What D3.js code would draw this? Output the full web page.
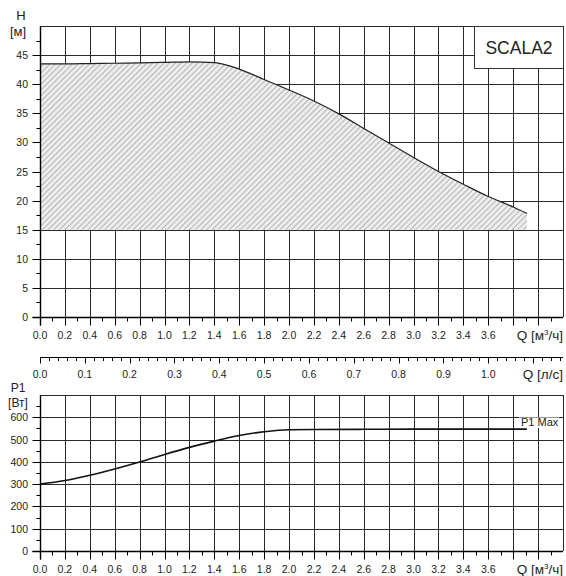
<!DOCTYPE html>
<html>
<head>
<meta charset="utf-8">
<script src="https://cdn.jsdelivr.net/npm/d3@7"></script>
<style>
  body { margin: 0; background: #fff; }
  svg { font-family: "Liberation Sans", Arial, sans-serif; }
</style>
</head>
<body>
<div id="chart"></div>
<script>
// head curve H(Q), m
const headQ = [0, 0.2, 0.4, 0.6, 0.8, 1.0, 1.2, 1.4, 1.6, 1.8, 2.0, 2.2, 2.4, 2.6, 2.8, 3.0, 3.2, 3.4, 3.6, 3.8, 3.91];
const headH = [43.5, 43.5, 43.55, 43.6, 43.65, 43.75, 43.85, 43.7, 42.6, 40.8, 39.0, 37.1, 34.9, 32.4, 29.9, 27.4, 25.0, 22.8, 20.7, 18.9, 17.8];
const headMin = 15;

// power curve P1(Q), W
const powerQ = [0, 0.2, 0.4, 0.6, 0.8, 1.0, 1.2, 1.4, 1.6, 1.8, 2.0, 2.2, 2.6, 3.0, 3.4, 3.91];
const powerP = [300, 316, 340, 368, 399, 433, 465, 493, 518, 535, 544, 545, 546, 547, 547, 547];

// axis ticks
const qLabels = ["0.0", "0.2", "0.4", "0.6", "0.8", "1.0", "1.2", "1.4", "1.6", "1.8", "2.0", "2.2", "2.4", "2.6", "2.8", "3.0", "3.2", "3.4", "3.6"];
const qGrid = [0, 0.2, 0.4, 0.6, 0.8, 1.0, 1.2, 1.4, 1.6, 1.8, 2.0, 2.2, 2.4, 2.6, 2.8, 3.0, 3.2, 3.4, 3.6, 3.8, 4.0, 4.2];
const lsLabels = ["0.0", "0.1", "0.2", "0.3", "0.4", "0.5", "0.6", "0.7", "0.8", "0.9", "1.0"];
const hTicks = [0, 5, 10, 15, 20, 25, 30, 35, 40, 45];
const pTicks = [0, 100, 200, 300, 400, 500, 600];

const width = 566, height = 576;
const svg = d3.select("#chart").append("svg")
  .attr("width", width)
  .attr("height", height);

const x = d3.scaleLinear().domain([0, 4.2]).range([40, 563]);
const xLs = d3.scaleLinear().domain([0, 4.2 / 3.6]).range([40, 563]);
const yH = d3.scaleLinear().domain([0, 50]).range([317, 26]);
const yP = d3.scaleLinear().domain([0, 700]).range([551, 395]);

const gridColor = "#2a2a2a";

// hatch pattern
const defs = svg.append("defs");
const pat = defs.append("pattern")
  .attr("id", "hatch")
  .attr("patternUnits", "userSpaceOnUse")
  .attr("width", 4).attr("height", 4)
  .attr("patternTransform", "rotate(45)");
pat.append("rect").attr("width", 4).attr("height", 4).attr("fill", "#ededed");
pat.append("line")
  .attr("x1", 0).attr("y1", 0).attr("x2", 0).attr("y2", 4)
  .attr("stroke", "#b4b4b4").attr("stroke-width", 2);

function drawGrid(g, y, yTicks, yMax) {
  g.append("g").selectAll("line")
    .data(yTicks.concat([yMax]))
    .enter().append("line")
    .attr("x1", x(0)).attr("x2", x(4.2))
    .attr("y1", d => Math.round(y(d)) + 0.5)
    .attr("y2", d => Math.round(y(d)) + 0.5)
    .attr("stroke", gridColor).attr("stroke-width", 1);
  g.append("g").selectAll("line")
    .data(qGrid)
    .enter().append("line")
    .attr("x1", d => Math.round(x(d)) + 0.5)
    .attr("x2", d => Math.round(x(d)) + 0.5)
    .attr("y1", y(0)).attr("y2", y(yMax))
    .attr("stroke", gridColor).attr("stroke-width", 1);
}

function drawAxes(g, y, yTicks, yMinor, yMax) {
  const y0 = Math.round(y(0)) + 0.5;
  const x0 = Math.round(x(0)) + 0.5;
  // y axis line
  g.append("line")
    .attr("x1", x0).attr("x2", x0)
    .attr("y1", y(yMax)).attr("y2", y0 + 8)
    .attr("stroke", "#000").attr("stroke-width", 1.4);
  // x axis line
  g.append("line")
    .attr("x1", x0 - 8).attr("x2", x(4.2))
    .attr("y1", y0).attr("y2", y0)
    .attr("stroke", "#000").attr("stroke-width", 1.4);
  // y major ticks
  g.selectAll(".ymaj")
    .data(yTicks).enter().append("line")
    .attr("x1", x0 - 8).attr("x2", x0)
    .attr("y1", d => Math.round(y(d)) + 0.5).attr("y2", d => Math.round(y(d)) + 0.5)
    .attr("stroke", "#000").attr("stroke-width", 1);
  // y minor ticks
  g.selectAll(".ymin")
    .data(yMinor).enter().append("line")
    .attr("x1", x0 - 4).attr("x2", x0)
    .attr("y1", d => Math.round(y(d)) + 0.5).attr("y2", d => Math.round(y(d)) + 0.5)
    .attr("stroke", "#000").attr("stroke-width", 1);
  g.selectAll(".ylab")
    .data(yTicks).enter().append("text")
    .attr("x", 28).attr("y", d => y(d) + 4)
    .attr("text-anchor", "end")
    .attr("font-size", "10.5px")
    .attr("fill", "#222")
    .text(d => d);
  // x ticks
  const xMinor = qGrid.slice(0, 21).map(d => d + 0.1);
  g.selectAll(".xmaj")
    .data(qGrid.slice(0, 21)).enter().append("line")
    .attr("x1", d => Math.round(x(d)) + 0.5).attr("x2", d => Math.round(x(d)) + 0.5)
    .attr("y1", y0).attr("y2", y0 + 8)
    .attr("stroke", "#000").attr("stroke-width", 1);
  g.selectAll(".xmin")
    .data(xMinor).enter().append("line")
    .attr("x1", d => Math.round(x(d)) + 0.5).attr("x2", d => Math.round(x(d)) + 0.5)
    .attr("y1", y0).attr("y2", y0 + 4)
    .attr("stroke", "#000").attr("stroke-width", 1);
  g.selectAll(".xlab")
    .data(qLabels).enter().append("text")
    .attr("x", d => x(+d))
    .attr("y", y0 + 21)
    .attr("text-anchor", "middle")
    .attr("font-size", "10.5px")
    .attr("fill", "#222")
    .text(d => d);
  const q = g.append("text")
    .attr("x", 563).attr("y", y0 + 22)
    .attr("text-anchor", "end")
    .attr("font-size", "13.5px")
    .attr("fill", "#222");
  q.append("tspan").text("Q [м");
  q.append("tspan").attr("font-size", "8px").attr("dy", -5).text("3");
  q.append("tspan").attr("dy", 5).text("/ч]");
}

// ---------- top chart: head ----------
const gTop = svg.append("g");
drawGrid(gTop, yH, hTicks, 50);

const area = d3.area()
  .x((d, i) => x(headQ[i]))
  .y0(yH(headMin))
  .y1((d, i) => yH(d))
  .curve(d3.curveMonotoneX);
gTop.append("path")
  .datum(headH)
  .attr("d", area)
  .attr("fill", "url(#hatch)");
gTop.append("path")
  .datum(headH)
  .attr("d", d3.line().x((d, i) => x(headQ[i])).y(d => yH(d)).curve(d3.curveMonotoneX))
  .attr("fill", "none")
  .attr("stroke", "#222")
  .attr("stroke-width", 1.2);

drawAxes(gTop, yH, hTicks, hTicks.map(d => d + 2.5), 50);

// legend box
gTop.append("rect")
  .attr("x", 474.5).attr("y", 26.5)
  .attr("width", 89).attr("height", 42)
  .attr("fill", "#fff").attr("stroke", "#333").attr("stroke-width", 1);
gTop.append("text")
  .attr("x", 519).attr("y", 54)
  .attr("text-anchor", "middle")
  .attr("font-size", "17.5px")
  .attr("fill", "#222")
  .text("SCALA2");

gTop.append("text").attr("x", 21).attr("y", 19.5)
  .attr("text-anchor", "middle").attr("font-size", "13px").attr("fill", "#222").text("H");
gTop.append("text").attr("x", 18).attr("y", 35.5)
  .attr("text-anchor", "middle").attr("font-size", "13px").attr("fill", "#222").text("[м]");

// ---------- l/s axis ----------
const gLs = svg.append("g");
const lsY = 357.5;
gLs.append("line")
  .attr("x1", 40).attr("x2", 563)
  .attr("y1", lsY).attr("y2", lsY)
  .attr("stroke", "#000").attr("stroke-width", 1.2);
const lsMinor = d3.range(0, 59).map(i => i * 0.02);
gLs.selectAll(".lsmin")
  .data(lsMinor).enter().append("line")
  .attr("x1", d => Math.round(xLs(d)) + 0.5).attr("x2", d => Math.round(xLs(d)) + 0.5)
  .attr("y1", lsY).attr("y2", d => (Math.abs(d * 10 - Math.round(d * 10)) < 1e-6) ? lsY + 6 : lsY + 3.5)
  .attr("stroke", "#000").attr("stroke-width", 1);
gLs.selectAll(".lslab")
  .data(lsLabels).enter().append("text")
  .attr("x", d => xLs(+d))
  .attr("y", 377.5)
  .attr("text-anchor", "middle")
  .attr("font-size", "10.5px")
  .attr("fill", "#222")
  .text(d => d);
gLs.append("text")
  .attr("x", 563).attr("y", 378.5)
  .attr("text-anchor", "end")
  .attr("font-size", "13.5px")
  .attr("fill", "#222")
  .text("Q [л/с]");

// ---------- bottom chart: power ----------
const gBot = svg.append("g");
drawGrid(gBot, yP, pTicks, 700);

gBot.append("path")
  .datum(powerP)
  .attr("d", d3.line().x((d, i) => x(powerQ[i])).y(d => yP(d)).curve(d3.curveMonotoneX))
  .attr("fill", "none")
  .attr("stroke", "#111")
  .attr("stroke-width", 1.6);

drawAxes(gBot, yP, pTicks, pTicks.map(d => d + 50), 700);

gBot.append("rect")
  .attr("x", 519).attr("y", 417.5)
  .attr("width", 40).attr("height", 10.5)
  .attr("fill", "#fff");
gBot.append("text")
  .attr("x", 521).attr("y", 425.5)
  .attr("font-size", "11px")
  .attr("fill", "#222")
  .text("P1 Max");

gBot.append("text").attr("x", 18).attr("y", 391.5)
  .attr("text-anchor", "middle").attr("font-size", "12px").attr("fill", "#222").text("P1");
gBot.append("text").attr("x", 18).attr("y", 406.5)
  .attr("text-anchor", "middle").attr("font-size", "12px").attr("fill", "#222").text("[Вт]");
</script>
</body>
</html>
